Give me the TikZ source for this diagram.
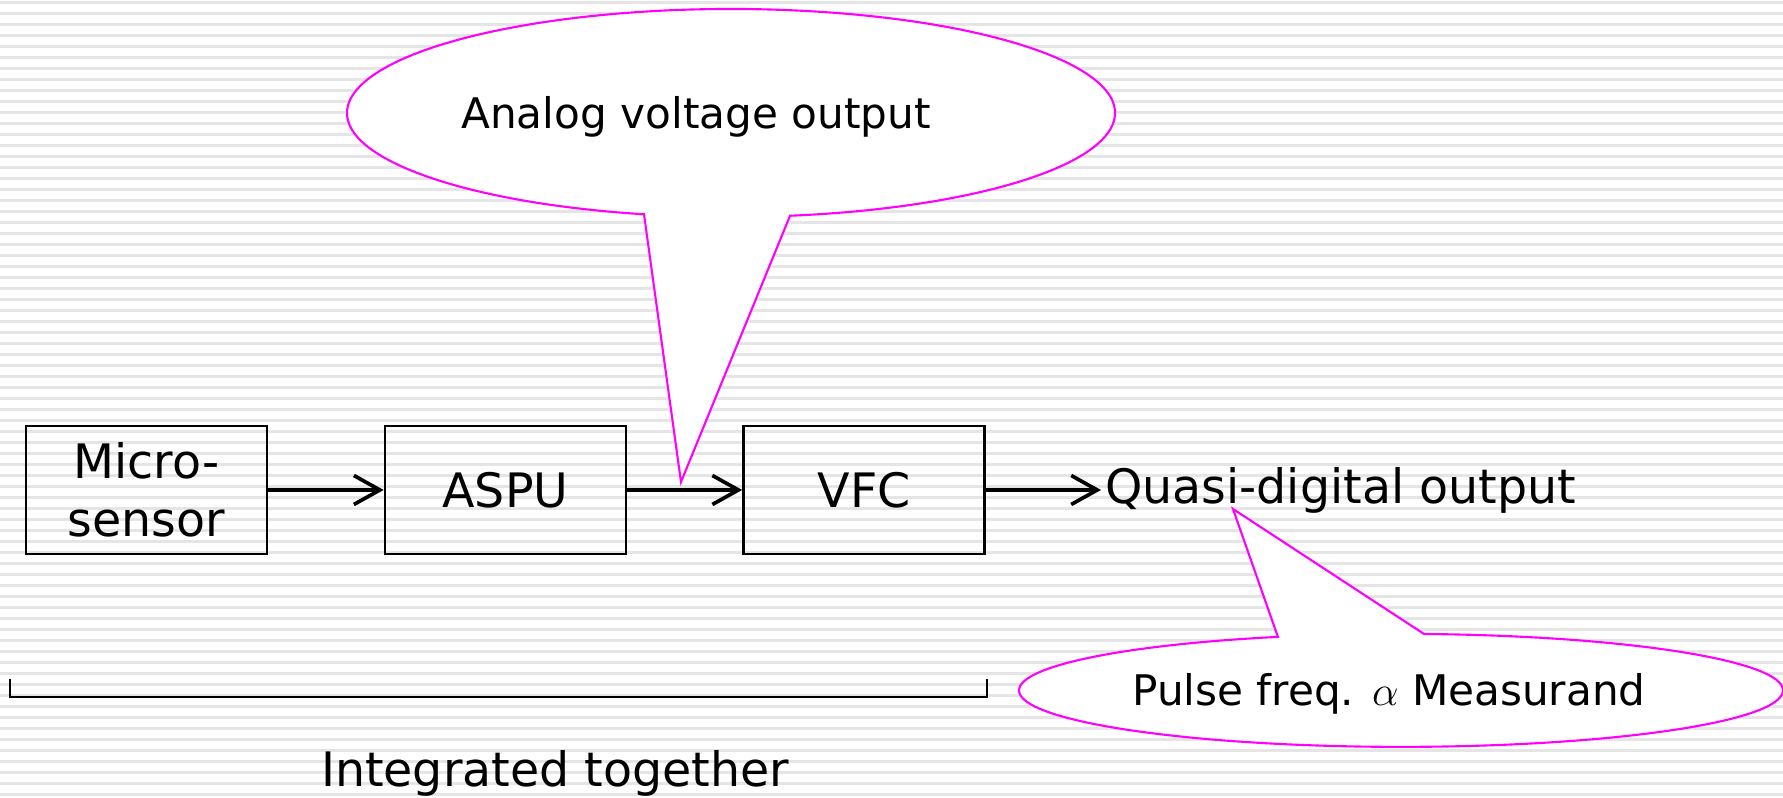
\documentclass[tikz,border=0pt]{standalone}
\usepackage{fontspec}
\setmainfont{DejaVu Sans}
\usetikzlibrary{arrows.meta}
\definecolor{calloutpink}{RGB}{255,0,255}

\begin{document}
\begin{tikzpicture}[
  block/.style={draw, line width=0.75pt, minimum width=2.41cm, minimum height=1.28cm,
    align=center, font=\fontsize{13.5}{16.5}\selectfont},
  flow/.style={-{Straight Barb[length=2.6mm, width=2.9mm]}, line width=1.05pt},
  balloon/.style={draw=calloutpink, fill=white, line width=0.6pt},
  stripe/.style={black!10, line width=0.03cm},
  note/.style={font=\fontsize{12}{14}\selectfont}
]

% Page and striped background
\useasboundingbox (0,0) rectangle (17.83,7.98);
\fill[white] (0,0) rectangle (17.83,7.98);
\foreach \i in {0,...,72}
  \draw[stripe] (0,7.953-0.11*\i) -- (17.83,7.953-0.11*\i);

% Signal chain
\node[block] (msensor) at (1.465,3.08) {Micro-\\sensor};
\node[block] (aspu) at (5.055,3.08) {ASPU};
\node[block] (vfc) at (8.64,3.08) {VFC};
\node[anchor=west, inner sep=1pt, font=\fontsize{13.5}{16.5}\selectfont] (qdout) at (11.01,3.08) {Quasi-digital output};

\draw[flow] (msensor) -- (aspu);
\draw[flow] (aspu) -- (vfc);
\draw[flow] (vfc) -- (qdout);

% Callout: analog voltage
\coordinate (tipA) at (6.81,3.16);
\draw[balloon] (tipA) -- (6.44,5.837)
  arc[start angle=256.9, end angle=-81.16, x radius=3.84, y radius=1.04] -- cycle;
\node[note] (analog) at (6.96,6.81) {Analog voltage output};

% Callout: pulse frequency
\coordinate (tipB) at (12.33,2.89);
\draw[balloon] (tipB) -- (14.24,1.64)
  arc[start angle=86.55, end angle=-251.2, x radius=3.82, y radius=0.565] -- cycle;
\node[note] (pulse) at (13.89,1.04) {Pulse freq. $\alpha$ Measurand};

% Bracket
\coordinate (brL) at (0.10,1.19);
\coordinate (brR) at (9.87,1.19);
\draw[line width=0.75pt] (brL) -- (0.10,1.01) -- (9.87,1.01) -- (brR);
\node[font=\fontsize{13.5}{16.5}\selectfont] (integ) at (5.55,0.25) {Integrated together};

\end{tikzpicture}
\end{document}
